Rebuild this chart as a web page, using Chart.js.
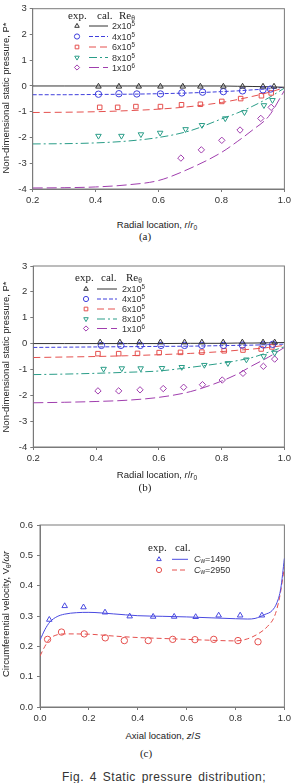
<!DOCTYPE html>
<html><head><meta charset="utf-8">
<script src="https://cdn.jsdelivr.net/npm/chart.js@4.4.1/dist/chart.umd.min.js"></script>
<style>
html,body{margin:0;padding:0;background:#fff;}
#page{position:relative;width:294px;height:783px;overflow:hidden;background:#fff;font-family:"Liberation Sans",Arial,sans-serif;}
.cv{position:absolute;left:0;width:294px;}
.t{position:absolute;white-space:nowrap;color:#222;line-height:1;}
.ser{font-family:"Liberation Serif","Times New Roman",serif;}
.t sub{font-size:70%;line-height:0;vertical-align:-0.3em;}
.t sup{font-size:70%;line-height:0;vertical-align:0.45em;}
</style></head><body><div id="page">
<div class="cv" id="wa" style="top:0;height:212px"><canvas id="ca"></canvas></div>
<div class="cv" id="wb" style="top:255px;height:215px"><canvas id="cb"></canvas></div>
<div class="cv" id="wc" style="top:515px;height:215px"><canvas id="cc"></canvas></div>
</div>
<script>
// ---------- DATA ----------
// Chart (a)
const reLabels = ['2x10<sup>5</sup>','4x10<sup>5</sup>','6x10<sup>5</sup>','8x10<sup>5</sup>','1x10<sup>6</sup>'];
const xTicksR = [0.2,0.4,0.6,0.8,1.0];
const yTicksP = [-4,-3,-2,-1,0,1,2,3];

const aExpR1 = [0.409,0.474,0.537,0.606,0.677,0.733,0.806,0.867,0.932,0.967];
const aExpP1 = [-0.02,-0.02,-0.02,-0.02,-0.02,-0.02,-0.02,-0.02,-0.02,-0.02];
const aExpR2 = [0.409,0.474,0.531,0.606,0.674,0.740,0.806,0.867,0.932,0.956];
const aExpP2 = [-0.32,-0.30,-0.31,-0.31,-0.27,-0.24,-0.22,-0.19,-0.15,-0.12];
const aExpR3 = [0.413,0.470,0.528,0.606,0.673,0.733,0.801,0.861,0.927,0.958];
const aExpP3 = [-0.83,-0.83,-0.80,-0.80,-0.73,-0.71,-0.60,-0.49,-0.38,-0.27];
const aExpR4 = [0.409,0.482,0.544,0.605,0.686,0.738,0.812,0.873,0.935,0.962];
const aExpP4 = [-1.94,-1.94,-1.88,-1.82,-1.68,-1.52,-1.26,-1.02,-0.75,-0.55];
const aExpR5 = [0.671,0.736,0.801,0.859,0.925,0.958];
const aExpP5 = [-2.80,-2.48,-2.11,-1.71,-1.26,-0.83];

const calR = [0.2,0.3,0.4,0.5,0.6,0.7,0.8,0.85,0.9,0.95,1.0];
const aCal1 = [0,0,0,0,0,0,0,-0.01,-0.02,-0.03,-0.05];
const aCal2 = [-0.34,-0.34,-0.33,-0.32,-0.30,-0.27,-0.22,-0.19,-0.15,-0.11,-0.05];
const aCal3 = [-1.03,-1.02,-1.00,-0.96,-0.90,-0.80,-0.64,-0.53,-0.40,-0.25,-0.07];
const aCal4 = [-2.25,-2.24,-2.21,-2.14,-2.00,-1.74,-1.28,-1.05,-0.78,-0.46,-0.08];
const aCal5 = [-3.96,-3.95,-3.92,-3.84,-3.67,-3.20,-2.58,-2.16,-1.70,-1.18,-0.18];

// Chart (b)
const bExpR1 = [0.413,0.476,0.538,0.605,0.682,0.737,0.805,0.866,0.932,0.969];
const bExpP1 = [0.05,0.05,0.05,0.05,0.05,0.05,0.05,0.05,0.05,0.05];
const bExpR2 = [0.417,0.479,0.541,0.607,0.682,0.737,0.806,0.866,0.932,0.963];
const bExpP2 = [-0.07,-0.07,-0.07,-0.07,-0.07,-0.07,-0.07,-0.06,-0.05,-0.03];
const bExpR3 = [0.406,0.472,0.532,0.601,0.669,0.737,0.808,0.868,0.926,0.960];
const bExpP3 = [-0.39,-0.39,-0.38,-0.35,-0.34,-0.33,-0.28,-0.25,-0.21,-0.13];
const bExpR4 = [0.424,0.482,0.542,0.610,0.673,0.745,0.820,0.879,0.934,0.969];
const bExpP4 = [-0.98,-0.96,-0.96,-0.95,-0.91,-0.83,-0.76,-0.62,-0.49,-0.36];
const bExpR5 = [0.406,0.472,0.540,0.614,0.679,0.739,0.802,0.868,0.933,0.969];
const bExpP5 = [-1.83,-1.83,-1.79,-1.74,-1.69,-1.59,-1.41,-1.15,-0.88,-0.60];

const bCal1 = [0,0,0,0,0,0.01,0.01,0.02,0.02,0.03,0.04];
const bCal2 = [-0.15,-0.14,-0.13,-0.12,-0.11,-0.10,-0.08,-0.07,-0.06,-0.04,-0.02];
const bCal3 = [-0.54,-0.52,-0.50,-0.47,-0.43,-0.38,-0.31,-0.26,-0.21,-0.15,-0.07];
const bCal4 = [-1.20,-1.18,-1.15,-1.11,-1.06,-0.92,-0.76,-0.66,-0.53,-0.33,-0.12];
const bCal5 = [-2.29,-2.27,-2.24,-2.19,-2.08,-1.86,-1.45,-1.18,-0.84,-0.52,-0.15];

// Chart (c)
const xTicksZ = [0.0,0.2,0.4,0.6,0.8,1.0];
const yTicksV = [0.0,0.1,0.2,0.3,0.4,0.5,0.6];
const cwLabels = ['<i>C</i><sub>w</sub>=1490','<i>C</i><sub>w</sub>=2950'];
const cExpZ1 = [0.038,0.101,0.178,0.266,0.367,0.463,0.549,0.637,0.731,0.819,0.908];
const cExpV1 = [0.288,0.333,0.329,0.312,0.299,0.298,0.298,0.297,0.302,0.302,0.302];
const cExpZ2 = [0.031,0.088,0.181,0.267,0.345,0.443,0.543,0.634,0.711,0.810,0.892];
const cExpV2 = [0.223,0.247,0.241,0.228,0.219,0.219,0.223,0.222,0.223,0.219,0.215];
const cCalZ1 = [0,0.02,0.04,0.07,0.1,0.15,0.2,0.3,0.4,0.5,0.6,0.7,0.8,0.85,0.88,0.92,0.95,0.97,0.985,1.0];
const cCalV1 = [0.22,0.255,0.28,0.298,0.306,0.311,0.312,0.307,0.301,0.299,0.297,0.294,0.291,0.29,0.292,0.305,0.318,0.345,0.39,0.49];
const cCalZ2 = [0,0.02,0.04,0.07,0.1,0.2,0.3,0.4,0.5,0.6,0.7,0.8,0.85,0.9,0.93,0.96,0.98,1.0];
const cCalV2 = [0.168,0.2,0.225,0.238,0.241,0.24,0.234,0.229,0.226,0.223,0.22,0.218,0.225,0.245,0.265,0.3,0.36,0.46];

// ---------- STYLE ----------
const COL = ['#333333','#3f3fdc','#e5504e','#2a9d88','#a03eae'];
const STYLE = ['triangle','circle','rect','triangle','rectRot'];
const ROT = [0,0,0,180,0];
const DASH = [[],[4,2],[7,4],[8,3,2,3],[10,4]];
const TICKC = '#333';
const FONT = {family:'"Liberation Sans", Arial, sans-serif', size:9.5};

const pts = (xs, ys) => xs.map((x,i)=>({x, y:ys[i]}));

function expDs(xs, ys, i, colOverride){
  return {data:pts(xs,ys), showLine:false, pointStyle:STYLE[i], pointRotation:ROT[i],
    pointRadius:3.2, pointBorderWidth:1, pointBorderColor:colOverride||COL[i],
    pointBackgroundColor:'rgba(0,0,0,0)', borderColor:colOverride||COL[i], order:0};
}
function calDs(xs, ys, col, dash){
  return {data:pts(xs,ys), showLine:true, pointRadius:0, borderColor:col, borderWidth:1,
    borderDash:dash, cubicInterpolationMode:'monotone', fill:false, order:1};
}

const framePlugin = {
  id:'frame',
  beforeDatasetsDraw(chart){
    const {ctx, chartArea:a} = chart;
    ctx.save(); ctx.strokeStyle='#7a7a7a'; ctx.lineWidth=1;
    ctx.strokeRect(a.left, a.top, a.right-a.left, a.bottom-a.top);
    ctx.restore();
  },
  afterDraw(chart){
    const lg = chart.options.plugins.frame && chart.options.plugins.frame.legend;
    if(!lg) return;
    const ctx = chart.ctx;
    lg.forEach(e=>{
      ctx.save();
      ctx.strokeStyle=e.color; ctx.fillStyle='rgba(0,0,0,0)'; ctx.lineWidth=1;
      Chart.helpers.drawPoint(ctx,{pointStyle:e.style, radius:2.6, rotation:e.rot, borderWidth:1}, e.sx, e.y);
      ctx.beginPath(); ctx.setLineDash(e.dash); ctx.moveTo(e.l1, e.y); ctx.lineTo(e.l2, e.y); ctx.stroke();
      ctx.restore();
    });
  }
};

function makeChart(id, datasets, xr, yr, xt, yt, geom, legend){
  return new Chart(document.getElementById(id), {
    type:'scatter',
    data:{datasets},
    plugins:[framePlugin],
    options:{
      responsive:true, maintainAspectRatio:false, animation:false,
      layout:{padding:{left:0, right:geom.right, top:geom.top, bottom:0}},
      plugins:{legend:{display:false}, tooltip:{enabled:false}, frame:{legend}},
      scales:{
        x:{type:'linear', min:xr[0], max:xr[1],
          afterBuildTicks: s => { s.ticks = xt.vals.map(v=>({value:v})); },
          ticks:{font:FONT, color:TICKC, padding:3, callback:v=>Number(v).toFixed(1), maxRotation:0},
          grid:{drawOnChartArea:false, drawTicks:true, tickLength:3, color:'#7a7a7a'},
          border:{display:true, color:'#7a7a7a'},
          afterFit: s => { s.height = geom.xh; }},
        y:{type:'linear', min:yr[0], max:yr[1],
          afterBuildTicks: s => { s.ticks = yt.vals.map(v=>({value:v})); },
          ticks:{font:FONT, color:TICKC, padding:geom.ypad, callback:v=> yt.dec ? Number(v).toFixed(1) : String(v)},
          grid:{drawOnChartArea:false, drawTicks:true, tickLength:3, color:'#7a7a7a'},
          border:{display:true, color:'#7a7a7a'},
          afterFit: s => { s.width = geom.yw; }}
      }
    }
  });
}

function legendRows(sx, l1, l2, rows, top, cols, styles, rots, dashes){
  return rows.map((y,i)=>({sx, l1, l2, y:y-top, color:cols[i], style:styles[i], rot:rots[i], dash:dashes[i]}));
}

// Chart (a)
makeChart('ca', [
  expDs(aExpR1,aExpP1,0), expDs(aExpR2,aExpP2,1), expDs(aExpR3,aExpP3,2), expDs(aExpR4,aExpP4,3), expDs(aExpR5,aExpP5,4),
  calDs(calR,aCal1,COL[0],DASH[0]), calDs(calR,aCal2,COL[1],DASH[1]), calDs(calR,aCal3,COL[2],DASH[2]),
  calDs(calR,aCal4,COL[3],DASH[3]), calDs(calR,aCal5,COL[4],DASH[4])
], [0.2,1.0], [-4,3], {vals:xTicksR,dec:true}, {vals:yTicksP,dec:false},
 {right:6.7, top:6, xh:23, yw:32.7, ypad:3},
 legendRows(77, 89, 108, [26,36.5,47,57.5,67.5], 0, COL, STYLE, ROT, DASH));

// Chart (b)
makeChart('cb', [
  expDs(bExpR1,bExpP1,0), expDs(bExpR2,bExpP2,1), expDs(bExpR3,bExpP3,2), expDs(bExpR4,bExpP4,3), expDs(bExpR5,bExpP5,4),
  calDs(calR,bCal1,COL[0],DASH[0]), calDs(calR,bCal2,COL[1],DASH[1]), calDs(calR,bCal3,COL[2],DASH[2]),
  calDs(calR,bCal4,COL[3],DASH[3]), calDs(calR,bCal5,COL[4],DASH[4])
], [0.2,1.0], [-4,3], {vals:xTicksR,dec:true}, {vals:yTicksP,dec:false},
 {right:7.3, top:11, xh:23, yw:33.3, ypad:3},
 legendRows(86, 97, 117, [289,299,309,319,328.5], 255, COL, STYLE, ROT, DASH));

// Chart (c)
const CB = '#4a4ae0', CR = '#e5504e';
makeChart('cc', [
  expDs(cExpZ1,cExpV1,0,CB), expDs(cExpZ2,cExpV2,1,CR),
  calDs(cCalZ1,cCalV1,CB,[]), calDs(cCalZ2,cCalV2,CR,[5,3])
], [0,1], [0,0.6], {vals:xTicksZ,dec:true}, {vals:yTicksV,dec:true},
 {right:7, top:10, xh:23, yw:40, ypad:4},
 legendRows(159, 172, 188, [559.3,570], 515, [CB,CR], ['triangle','circle'], [0,0], [[],[5,3]]));

// ---------- TEXT ----------
const page = document.getElementById('page');
function txt(html, x, y, opts){
  const d = document.createElement('div');
  d.className = 't' + (opts.serif ? ' ser' : '');
  d.innerHTML = html;
  d.style.left = x+'px'; d.style.top = y+'px';
  d.style.fontSize = (opts.size||9.5)+'px';
  if(opts.color) d.style.color = opts.color;
  if(opts.ls) d.style.letterSpacing = opts.ls;
  if(opts.ws) d.style.wordSpacing = opts.ws;
  let tr = opts.anchor==='left' ? 'translate(0,-50%)' : 'translate(-50%,-50%)';
  if(opts.rot) tr += ' rotate(-90deg)';
  d.style.transform = tr;
  page.appendChild(d);
}
// (a)
txt('Non-dimensional static pressure, P*', 6, 97.5, {rot:true});
txt('Radial location, <i>r</i>/<i>r</i><sub>0</sub>', 157, 225, {});
txt('(a)', 145, 236, {serif:true, size:11});
txt('exp.', 68, 15, {serif:true, size:11, anchor:'left'});
txt('cal.', 97, 15, {serif:true, size:11, anchor:'left'});
txt('Re<sub>θ</sub>', 119, 15, {serif:true, size:11, anchor:'left'});
[26,36.5,47,57.5,67.5].forEach((y,i)=>txt(reLabels[i], 112, y, {anchor:'left', size:9, color:'#333'}));
// (b)
txt('Non-dimensional static pressure, P*', 6, 356.5, {rot:true});
txt('Radial location, <i>r</i>/<i>r</i><sub>0</sub>', 157, 475, {});
txt('(b)', 145, 487, {serif:true, size:11});
txt('exp.', 75, 277, {serif:true, size:11, anchor:'left'});
txt('cal.', 101, 277, {serif:true, size:11, anchor:'left'});
txt('Re<sub>θ</sub>', 126, 277, {serif:true, size:11, anchor:'left'});
[289,299,309,319,328.5].forEach((y,i)=>txt(reLabels[i], 122, y, {anchor:'left', size:9, color:'#333'}));
// (c)
txt('Circumferential velocity, V<sub>θ</sub>/<i>ωr</i>', 6, 614, {rot:true});
txt('Axial location, <i>z</i>/<i>S</i>', 163, 736, {});
txt('(c)', 146, 753, {serif:true, size:11});
txt('exp.', 148, 547, {serif:true, size:11, anchor:'left'});
txt('cal.', 175, 547, {serif:true, size:11, anchor:'left'});
[559.3,570].forEach((y,i)=>txt(cwLabels[i], 194, y, {anchor:'left', size:9, color:'#333'}));
// caption
txt('Fig. 4 Static pressure distribution;', 164, 777, {size:12, ls:'0.5px', ws:'2px', color:'#333'});
</script>
</body></html>
